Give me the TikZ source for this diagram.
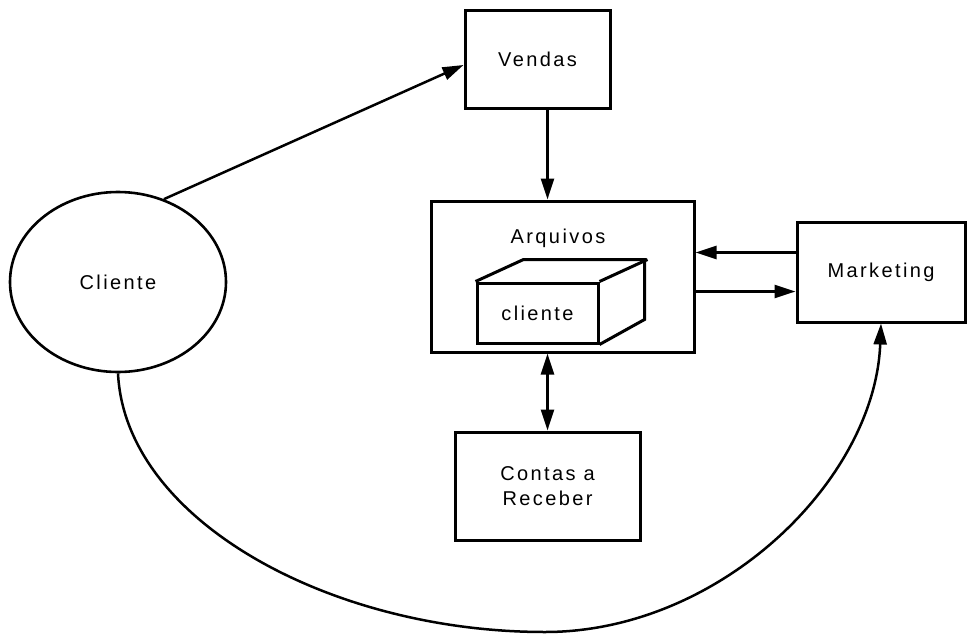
\documentclass[tikz,border=0pt]{standalone}
\usepackage{fontspec}
\setmainfont{Liberation Sans}[LetterSpace=12]
\usetikzlibrary{arrows.meta,calc,positioning,shapes.geometric}
\tikzset{
  caixa/.style={
    draw,
    line width=3pt,
    align=center,
    inner sep=0pt,
    font=\fontsize{20}{25}\selectfont
  },
  texto/.style={
    inner sep=0pt,
    font=\fontsize{20}{25}\selectfont
  },
  seta/.style={
    -{Triangle[length=21pt,width=13pt]},
    line width=2.5pt
  }
}

\begin{document}
\begin{tikzpicture}[x=1pt,y=-1pt]
\useasboundingbox (0,0) rectangle (967,635);
% caixas
\node[caixa, ellipse, line width=2.6pt, minimum width=216pt, minimum height=180pt] (cli) at (118,282) {Cliente};
\node[caixa, minimum width=145pt, minimum height=98pt] (ven) at (537.5,59) {Vendas};
\node[caixa, minimum width=263pt, minimum height=151pt] (arq) at (562.5,276.5) {};
\node[texto] (arqt) at (558,238) {Arquivos};
\node[caixa, minimum width=121pt, minimum height=60pt] (cubo) at (537.5,313) {cliente};
\node[caixa, minimum width=168pt, minimum height=100pt] (mkt) at (881,272) {Marketing};
\node[caixa, minimum width=185pt, minimum height=108pt] (con) at (547.5,486) {Contas a\\Receber};
\coordinate (fundo) at (545,632);
% cubo
\draw[line width=3pt, line join=miter] (cubo.north west) -- ++(48,-22) -- ++(121,0) -- ++(0,60) -- (cubo.south east);
\draw[line width=3pt] (cubo.north east) -- ++(48,-22);
% setas
\draw[seta] (cli.61) -- ([yshift=-6pt]ven.west);
\draw[seta] (ven.south -| con.north) -- (arq.north -| con.north);
\draw[seta, {Triangle[length=21pt,width=13pt]}-{Triangle[length=21pt,width=13pt]}] (arq.south -| con.north) -- (con.north);
\draw[seta] ([yshift=19.5pt]mkt.west) -- ([yshift=19.5pt]mkt.west -| arq.east);
\draw[seta] ([yshift=-19.5pt]arq.east |- mkt.west) -- ([yshift=-19.5pt]mkt.west);
\draw[seta] (cli.south) .. controls (125,520) and (330,632) .. (fundo)
  .. controls (720,632) and (875,480) .. (mkt.south);
\end{tikzpicture}
\end{document}
